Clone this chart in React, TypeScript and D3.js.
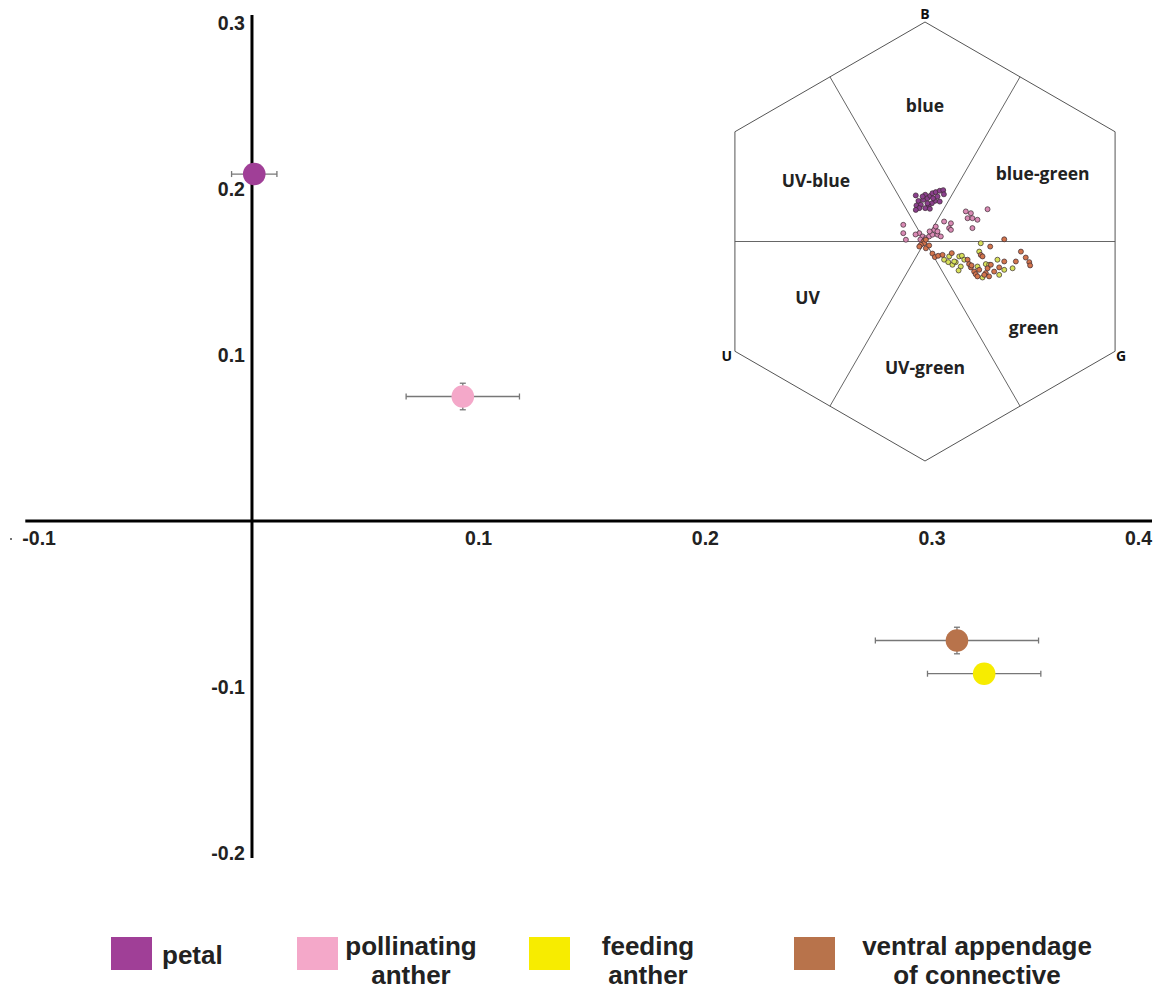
import React from 'react';
import * as d3 from 'd3';

// ---------- main chart data (hexagon units) ----------
const seriesNames = ['petal', 'pollinating anther', 'feeding anther', 'ventral appendage of connective'];
const meanX = [0.001, 0.093, 0.323, 0.311];
const meanY = [0.209, 0.075, -0.092, -0.072];
const errX = [0.010, 0.025, 0.025, 0.036];
const errY = [0.003, 0.008, 0.003, 0.008];
const seriesColors = ['#a03f97', '#f4a8c9', '#f7ec00', '#b8734b'];
const xTicks = [-0.1, 0.1, 0.2, 0.3, 0.4];
const yTicks = [0.3, 0.2, 0.1, -0.1, -0.2];

// ---------- inset data: individual loci in the colour hexagon ----------
const petalHex: [number, number][] = [
  [-0.042, 0.210], [-0.030, 0.185], [-0.039, 0.164], [-0.019, 0.167], [-0.008, 0.190],
  [0.001, 0.213], [0.011, 0.197], [0.024, 0.208], [0.034, 0.220], [0.049, 0.225],
  [0.067, 0.231], [0.083, 0.234], [0.086, 0.215], [0.067, 0.182], [0.045, 0.185],
  [0.031, 0.174], [0.016, 0.164], [0.001, 0.152], [0.022, 0.149], [-0.026, 0.152],
  [-0.011, 0.205], [0.037, 0.197], [0.057, 0.205], [0.011, 0.174], [-0.042, 0.144],
];
const pollinatingHex: [number, number][] = [
  [-0.099, 0.076], [-0.099, 0.038], [-0.087, 0.008], [-0.026, 0.038], [-0.011, 0.023],
  [0.004, 0.015], [0.019, 0.023], [0.034, 0.031], [0.057, 0.031], [0.072, 0.023],
  [0.042, 0.053], [0.049, 0.068], [0.087, 0.091], [0.118, 0.083], [0.110, 0.061],
  [0.118, 0.053], [0.186, 0.137], [0.209, 0.129], [0.194, 0.106], [0.216, 0.106],
  [0.239, 0.099], [0.216, 0.061], [0.285, 0.147], [-0.043, 0.032], [-0.021, 0.009],
  [0.021, 0.046], [0.057, 0.046],
];
const feedingHex: [number, number][] = [
  [0.087, -0.083], [0.106, -0.094], [0.125, -0.106], [0.140, -0.094], [0.156, -0.068],
  [0.168, -0.065], [0.163, -0.114], [0.153, -0.132], [0.133, -0.091], [0.254, -0.008],
  [0.247, -0.046], [0.277, -0.103], [0.292, -0.106], [0.330, -0.083], [0.338, -0.152],
  [0.361, -0.129], [0.399, -0.122], [0.262, -0.164], [0.239, -0.114], [0.110, -0.068],
  [0.179, -0.083],
];
const ventralHex: [number, number][] = [
  [-0.007, 0.000], [-0.004, -0.008], [0.004, 0.008], [-0.019, -0.015], [0.004, -0.031],
  [-0.026, -0.023], [0.019, -0.018], [0.034, -0.055],
  [0.045, -0.071], [0.060, -0.065], [0.080, -0.061], [0.122, -0.053], [0.194, -0.083],
  [0.201, -0.103], [0.209, -0.118], [0.224, -0.137], [0.231, -0.149], [0.247, -0.129],
  [0.254, -0.061], [0.262, -0.068], [0.297, -0.023], [0.285, -0.122], [0.277, -0.144],
  [0.292, -0.159], [0.315, -0.137], [0.338, -0.118], [0.361, -0.091], [0.414, -0.091],
  [0.437, -0.046], [0.459, -0.073], [0.475, -0.094], [0.479, -0.109], [0.239, -0.159],
  [0.270, -0.152], [0.212, -0.109], [0.300, -0.106], [0.361, 0.010],
];
const insetDotFills = ['#8a3f8c', '#d98ab4', '#d6e05a', '#d2744c'];

const regionLabels = ['blue', 'UV-blue', 'blue-green', 'UV', 'green', 'UV-green'];
const regionLabelX = [0.0, -0.497, 0.536, -0.535, 0.496, 0.0];
const regionLabelY = [0.62, 0.276, 0.312, -0.253, -0.39, -0.576];
const vertexLabels = ['B', 'U', 'G'];
const vertexAngles = [90, 210, 330];

const legendLines = [['petal'], ['pollinating', 'anther'], ['feeding', 'anther'], ['ventral appendage', 'of connective']];

const W = 1156;
const H = 989;

const fmt = (t: number) => t.toFixed(1);

export default function App() {
  // main scales
  const x = d3.scaleLinear().domain([-0.1, 0.4]).range([25.3, 1158.7]);
  const y = d3.scaleLinear().domain([-0.2, 0.3]).range([853, 23]);

  // inset scales (hexagon units, vertex distance = 1)
  const R = 219.5;
  const cx = 925;
  const cy = 241.5;
  const hx = d3.scaleLinear().domain([-1, 1]).range([cx - R, cx + R]);
  const hy = d3.scaleLinear().domain([-1, 1]).range([cy + R, cy - R]);

  const rad = (deg: number) => (deg * Math.PI) / 180;
  const hexVerts = [90, 30, -30, -90, -150, 150].map((a) => [Math.cos(rad(a)), Math.sin(rad(a))]);
  const hexPath = d3.line<number[]>().x((d) => hx(d[0])).y((d) => hy(d[1]))(hexVerts.concat([hexVerts[0]])) || '';
  const m = Math.cos(rad(30));
  const dividers = [0, 60, 120].map((a) => [
    [m * Math.cos(rad(a)), m * Math.sin(rad(a))],
    [-m * Math.cos(rad(a)), -m * Math.sin(rad(a))],
  ]);

  const font = "'Liberation Sans', Arial, sans-serif";
  const insetFont = "'Open Sans', 'DejaVu Sans', sans-serif";

  const insetSets = [petalHex, pollinatingHex, feedingHex, ventralHex];

  const legendSquareX = [111, 297, 529, 794];
  const legendTextX = [162, 411, 648, 977];

  return (
    <svg width={W} height={H} style={{ position: 'absolute', left: 0, top: 0, background: '#fff' }}>
      <rect x={0} y={0} width={W} height={H} fill="#fff" />

      {/* inset colour hexagon */}
      <g>
        <path d={hexPath} fill="none" stroke="#555" strokeWidth={1} />
        {dividers.map((d, i) => (
          <line key={i} x1={hx(d[0][0])} y1={hy(d[0][1])} x2={hx(d[1][0])} y2={hy(d[1][1])} stroke="#555" strokeWidth={0.9} />
        ))}
        {regionLabels.map((t, i) => (
          <text key={t} x={hx(regionLabelX[i])} y={hy(regionLabelY[i]) + 6.5} textAnchor="middle"
            fontFamily={insetFont} fontWeight={700} fontSize={17.5} fill="#222">{t}</text>
        ))}
        {vertexLabels.map((t, i) => {
          const a = rad(vertexAngles[i]);
          const px = hx(Math.cos(a));
          const py = hy(Math.sin(a));
          const dx = i === 0 ? 0 : i === 1 ? -8 : 6;
          const dy = i === 0 ? -3 : 10;
          return (
            <text key={t} x={px + dx} y={py + dy} textAnchor="middle" fontFamily={insetFont}
              fontWeight={700} fontSize={14} fill="#111">{t}</text>
          );
        })}
        {insetSets.map((pts, si) => (
          <g key={si}>
            {pts.map((p, i) => (
              <circle key={i} cx={hx(p[0])} cy={hy(p[1])} r={2.5} fill={insetDotFills[si]} stroke="#3a2a30" strokeWidth={0.7} />
            ))}
          </g>
        ))}
      </g>

      {/* axes */}
      <line x1={x(-0.1)} x2={1152} y1={y(0)} y2={y(0)} stroke="#000" strokeWidth={3} />
      <line x1={x(0)} x2={x(0)} y1={15} y2={858} stroke="#000" strokeWidth={3} />

      {xTicks.map((t) => {
        const px = x(t);
        const anchor = t === -0.1 ? 'start' : t === 0.4 ? 'end' : 'middle';
        const ax = t === -0.1 ? px - 3 : t === 0.4 ? 1152 : px;
        return (
          <text key={t} x={ax} y={y(0) + 24} textAnchor={anchor} fontFamily={font} fontWeight={700} fontSize={19.5} fill="#222">
            {fmt(t)}
          </text>
        );
      })}
      <circle cx={11} cy={y(0) + 18} r={1} fill="#444" />
      {yTicks.map((t) => (
        <text key={t} x={x(0) - 7} y={y(t) + 7} textAnchor="end" fontFamily={font} fontWeight={700} fontSize={19.5} fill="#222">
          {fmt(t)}
        </text>
      ))}

      {/* means with error bars */}
      {seriesNames.map((n, i) => {
        const px = x(meanX[i]);
        const py = y(meanY[i]);
        const x0 = x(meanX[i] - errX[i]);
        const x1 = x(meanX[i] + errX[i]);
        const y0 = y(meanY[i] - errY[i]);
        const y1 = y(meanY[i] + errY[i]);
        return (
          <g key={n}>
            <line x1={x0} x2={x1} y1={py} y2={py} stroke="#777" strokeWidth={1.3} />
            <line x1={x0} x2={x0} y1={py - 3} y2={py + 3} stroke="#777" strokeWidth={1.3} />
            <line x1={x1} x2={x1} y1={py - 3} y2={py + 3} stroke="#777" strokeWidth={1.3} />
            <line x1={px} x2={px} y1={y0} y2={y1} stroke="#777" strokeWidth={1.3} />
            <line x1={px - 3} x2={px + 3} y1={y0} y2={y0} stroke="#777" strokeWidth={1.3} />
            <line x1={px - 3} x2={px + 3} y1={y1} y2={y1} stroke="#777" strokeWidth={1.3} />
            <circle cx={px} cy={py} r={11.3} fill={seriesColors[i]} />
          </g>
        );
      })}

      {/* legend */}
      {legendLines.map((lines, i) => (
        <g key={i}>
          <rect x={legendSquareX[i]} y={937} width={41} height={33} fill={seriesColors[i]} />
          {lines.map((l, j) => (
            <text key={j}
              x={legendTextX[i]}
              y={lines.length === 1 ? 964 : 955 + j * 29}
              textAnchor={lines.length === 1 ? 'start' : 'middle'}
              fontFamily={font} fontWeight={700} fontSize={26} fill="#222">{l}</text>
          ))}
        </g>
      ))}
    </svg>
  );
}
